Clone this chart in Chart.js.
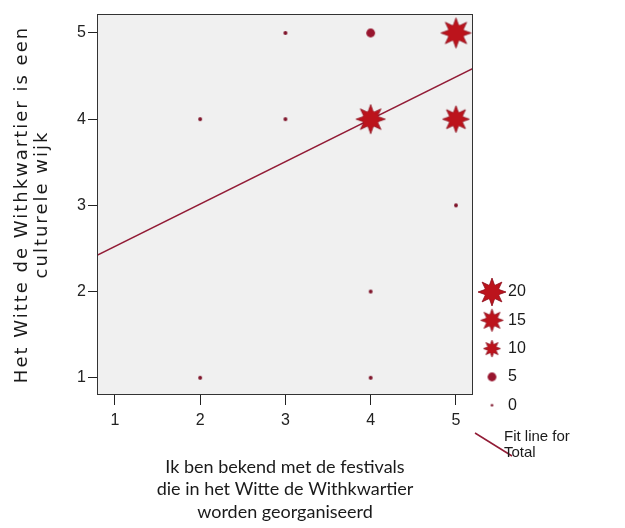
<!DOCTYPE html>
<html>
<head>
<meta charset="utf-8">
<script src="https://cdn.jsdelivr.net/npm/chart.js@4"></script>
<style>
  html, body { margin: 0; padding: 0; background: #ffffff; }
  #wrap { width: 625px; height: 528px; }
</style>
</head>
<body>
<div id="wrap"><canvas id="chart" width="625" height="528"></canvas></div>
<script>
// Festival awareness (x) versus "cultural district" rating (y), with respondent counts per cell
const festivalScore = [2, 4, 4, 5, 2, 3, 4, 5, 3, 4, 5];
const cultureScore  = [1, 1, 2, 3, 4, 4, 4, 4, 5, 5, 5];
const respondents   = [1, 1, 1, 1, 1, 1, 21, 19, 1, 5, 22];

// Fit line for Total, given by its two end points
const fitX = [0.79, 5.2];
const fitY = [2.42, 4.59];

const xTicks = [1, 2, 3, 4, 5];
const yTicks = [1, 2, 3, 4, 5];
const legendCounts = [20, 15, 10, 5, 0];
const legendFitLabel = ['Fit line for', 'Total'];

const xTitle = ['Ik ben bekend met de festivals', 'die in het Witte de Withkwartier', 'worden georganiseerd'];
const yTitle = ['Het Witte de Withkwartier is een', 'culturele wijk'];

const TICK_FONT = 'Liberation Sans';
const STAR_FILL = '#bc141c';
const STAR_EDGE = '#8c0c1c';
const DOT_FILL = '#7e1228';
const LINE_COLOR = '#921c36';

// Marker for a cell: dots for small counts, sunflower stars for large ones
function marker(count) {
  const star = count >= 8;
  const R = star ? 8.5 + (count - 10) * 0.55 : 1.3 + count * 0.62;
  const size = Math.ceil(R * 2 + 4);
  const cv = document.createElement('canvas');
  cv.width = size; cv.height = size;
  const g = cv.getContext('2d');
  const c = size / 2;
  if (star) {
    const n = 8, inner = R * 0.5;
    g.beginPath();
    for (let i = 0; i < n * 2; i++) {
      const a = -Math.PI / 2 + i * Math.PI / n;
      const r = i % 2 === 0 ? R : inner;
      const px = c + r * Math.cos(a), py = c + r * Math.sin(a);
      if (i === 0) g.moveTo(px, py); else g.lineTo(px, py);
    }
    g.closePath();
    g.fillStyle = STAR_FILL;
    g.fill();
    g.lineWidth = 0.8;
    g.strokeStyle = STAR_EDGE;
    g.stroke();
    g.beginPath();
    g.arc(c, c, R * 0.56, 0, Math.PI * 2);
    g.fillStyle = STAR_FILL;
    g.fill();
  } else {
    g.beginPath();
    g.arc(c, c, R, 0, Math.PI * 2);
    g.fillStyle = count >= 4 ? '#98152e' : DOT_FILL;
    g.fill();
  }
  return cv;
}

const points = festivalScore.map((x, i) => ({ x: x, y: cultureScore[i] }));
const pointImages = respondents.map(marker);
const fitPoints = fitX.map((x, i) => ({ x: x, y: fitY[i] }));

const frame = {
  id: 'frame',
  beforeDraw(chart) {
    const { ctx, chartArea: a } = chart;
    ctx.save();
    ctx.fillStyle = '#f0f0f0';
    ctx.fillRect(a.left, a.top, a.right - a.left, a.bottom - a.top);
    ctx.restore();
  },
  afterDraw(chart) {
    const { ctx, chartArea: a } = chart;
    ctx.save();
    ctx.strokeStyle = '#333333';
    ctx.lineWidth = 1;
    ctx.strokeRect(a.left + 0.5, a.top + 0.5, a.right - a.left - 1, a.bottom - a.top - 1);

    // axis titles
    ctx.fillStyle = '#1a1a1a';
    ctx.textAlign = 'center';
    ctx.textBaseline = 'middle';
    ctx.font = '18px Lato';
    const cx = (a.left + a.right) / 2;
    xTitle.forEach((t, i) => ctx.fillText(t, cx, 467 + i * 22.5));

    ctx.save();
    ctx.translate(0, (a.top + a.bottom) / 2);
    ctx.rotate(-Math.PI / 2);
    ctx.font = '18px "DejaVu Sans"';
    ctx.letterSpacing = '2px';
    yTitle.forEach((t, i) => ctx.fillText(t, 0, 22 + i * 20));
    ctx.restore();

    // size legend
    ctx.font = '16px ' + TICK_FONT;
    ctx.textAlign = 'left';
    legendCounts.forEach((n, i) => {
      const y = 292 + i * 28.3;
      const img = marker(n);
      ctx.drawImage(img, 492 - img.width / 2, y - img.height / 2);
      ctx.fillStyle = '#1a1a1a';
      ctx.fillText(String(n), 508, y);
    });
    ctx.strokeStyle = LINE_COLOR;
    ctx.lineWidth = 1.5;
    ctx.beginPath();
    ctx.moveTo(475, 433);
    ctx.lineTo(512, 456);
    ctx.stroke();
    ctx.font = '15px ' + TICK_FONT;
    legendFitLabel.forEach((t, i) => ctx.fillText(t, 504, 437 + i * 16));
    ctx.restore();
  }
};

new Chart(document.getElementById('chart'), {
  type: 'scatter',
  data: {
    datasets: [
      {
        label: 'Respondents',
        data: points,
        pointStyle: pointImages,
        pointRadius: 5,
        pointHoverRadius: 5,
        order: 1
      },
      {
        label: 'Fit line for Total',
        data: fitPoints,
        showLine: true,
        borderColor: LINE_COLOR,
        borderWidth: 1.5,
        pointRadius: 0,
        fill: false,
        order: 2
      }
    ]
  },
  options: {
    responsive: false,
    animation: false,
    devicePixelRatio: 1,
    layout: { padding: { top: 14, right: 152, left: 0, bottom: 0 } },
    plugins: { legend: { display: false }, tooltip: { enabled: false } },
    scales: {
      x: {
        type: 'linear',
        min: 0.79,
        max: 5.2,
        afterBuildTicks: s => { s.ticks = xTicks.map(v => ({ value: v })); },
        afterFit: s => { s.height = 133; },
        grid: { drawOnChartArea: false, drawTicks: true, tickLength: 10, color: '#222222' },
        border: { display: false },
        ticks: { color: '#222222', font: { family: TICK_FONT, size: 16 }, padding: 6, maxRotation: 0 }
      },
      y: {
        type: 'linear',
        min: 0.8,
        max: 5.22,
        afterBuildTicks: s => { s.ticks = yTicks.map(v => ({ value: v })); },
        afterFit: s => { s.width = 97; },
        grid: { drawOnChartArea: false, drawTicks: true, tickLength: 9, color: '#222222' },
        border: { display: false },
        ticks: { color: '#222222', font: { family: TICK_FONT, size: 16 }, padding: 2 }
      }
    }
  },
  plugins: [frame]
});
</script>
</body>
</html>
